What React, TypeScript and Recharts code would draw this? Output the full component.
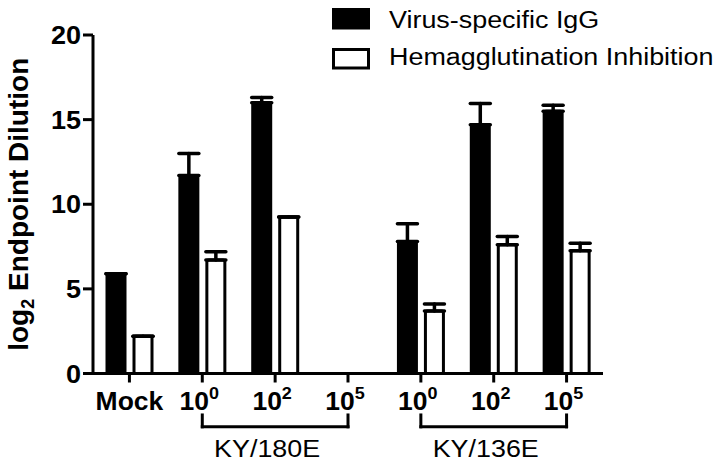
import { BarChart, Bar, XAxis, YAxis, ErrorBar, Legend, ReferenceLine } from 'recharts'

const FONT = '"Liberation Sans", Arial, sans-serif'

// categories along the x axis (10^5 under KY/180E has no data)
const categories = [
  'Mock',
  'KY/180E 10^0',
  'KY/180E 10^2',
  'KY/180E 10^5',
  'KY/136E 10^0',
  'KY/136E 10^2',
  'KY/136E 10^5',
]
const tickBase = ['Mock', '10', '10', '10', '10', '10', '10']
const tickExp = ['', '0', '2', '5', '0', '2', '5']

const seriesNames = ['Virus-specific IgG', 'Hemagglutination Inhibition']

// log2 endpoint dilution, mean and upper error
const iggMean = [5.9, 11.7, 16.0, null, 7.8, 14.7, 15.5]
const iggErr = [0, 1.3, 0.3, null, 1.05, 1.25, 0.35]
const hiMean = [2.2, 6.7, 9.25, null, 3.7, 7.6, 7.25]
const hiErr = [0, 0.5, 0, null, 0.4, 0.5, 0.45]

const yTicks = [0, 5, 10, 15, 20]

// strain brackets under the axis
const groupLabels = ['KY/180E', 'KY/136E']
const groupStart = [categories[1], categories[4]]
const groupEnd = [categories[3], categories[6]]

const data = categories.map((name, i) => ({
  name,
  igg: iggMean[i],
  iggErr: iggErr[i] == null ? null : [0, iggErr[i]],
  hi: hiMean[i],
  hiErr: hiErr[i] == null ? null : [0, hiErr[i]],
}))

function YTick({ x, y, payload }: any) {
  return (
    <text
      transform={`translate(${x},${y + 9}) scale(1.08,1)`}
      textAnchor="end"
      fontFamily={FONT}
      fontWeight="bold"
      fontSize={25}
      fill="#000"
    >
      {payload.value}
    </text>
  )
}

function XTick({ x, y, payload }: any) {
  const i = categories.indexOf(payload.value)
  const shift = i === 0 ? 0 : -3
  return (
    <text
      transform={`translate(${x + shift},${y + 25.5}) scale(1.06,1)`}
      textAnchor="middle"
      fontFamily={FONT}
      fontWeight="bold"
      fontSize={25}
      fill="#000"
    >
      {tickBase[i]}
      {tickExp[i] && (
        <tspan dy={-11} fontSize={17}>
          {tickExp[i]}
        </tspan>
      )}
    </text>
  )
}

function YLabel({ viewBox }: any) {
  const cy = viewBox.y + viewBox.height / 2
  return (
    <text
      transform={`translate(${viewBox.x + 28},${cy}) rotate(-90)`}
      textAnchor="middle"
      fontFamily={FONT}
      fontWeight="bold"
      fontSize={28}
      fill="#000"
    >
      log
      <tspan fontSize={18} dy={6}>
        2
      </tspan>
      <tspan dy={-6}> Endpoint Dilution</tspan>
    </text>
  )
}

function LegendBox({ payload }: any) {
  const items = [...(payload || [])].sort(
    (a: any, b: any) => seriesNames.indexOf(a.value) - seriesNames.indexOf(b.value)
  )
  return (
    <svg width={722} height={80} style={{ display: 'block' }}>
      {items.map((e: any, i: number) => (
        <g key={e.value}>
          <rect
            x={333.5}
            y={9.5 + i * 40}
            width={35}
            height={18.5}
            fill={e.color}
            stroke="#000"
            strokeWidth={3}
          />
          <text
            transform={`translate(389,${28 + i * 37}) scale(1.17,1)`}
            fontFamily={FONT}
            fontSize={23}
            fill="#000"
          >
            {e.value}
          </text>
        </g>
      ))}
    </svg>
  )
}

const bracketY = -3.15
const bracketTop = -2.45

export default function App() {
  return (
    <div style={{ position: 'fixed', left: 0, top: 0, width: 722, height: 465, background: '#fff' }}>
      <BarChart
        width={722}
        height={465}
        data={data}
        barGap={9}
        margin={{ top: 35, right: 119, bottom: 31.5, left: 0 }}
      >
        <XAxis
          dataKey="name"
          height={60}
          interval={0}
          tick={<XTick />}
          tickSize={9}
          axisLine={{ stroke: '#000', strokeWidth: 3 }}
          tickLine={{ stroke: '#000', strokeWidth: 3 }}
        />
        <YAxis
          width={93}
          domain={[0, 20]}
          ticks={yTicks}
          tick={<YTick />}
          tickSize={10}
          axisLine={{ stroke: '#000', strokeWidth: 3 }}
          tickLine={{ stroke: '#000', strokeWidth: 3 }}
          label={{ content: (p: any) => <YLabel viewBox={p.viewBox} /> }}
        />
        <Legend
          layout="horizontal"
          verticalAlign="middle"
          align="center"
          wrapperStyle={{ position: 'absolute', top: 0, left: 0, width: 722, height: 80 }}
          content={(p: any) => <LegendBox payload={p.payload} />}
        />
        <Bar
          dataKey="igg"
          name={seriesNames[0]}
          fill="#000"
          stroke="#000"
          strokeWidth={3}
          barSize={18}
          radius={2}
          isAnimationActive={false}
        >
          <ErrorBar dataKey="iggErr" width={10} stroke="#000" strokeWidth={3.5} strokeLinecap="round" />
        </Bar>
        <Bar
          dataKey="hi"
          name={seriesNames[1]}
          fill="#fff"
          stroke="#000"
          strokeWidth={3}
          barSize={18}
          radius={2}
          isAnimationActive={false}
        >
          <ErrorBar dataKey="hiErr" width={10} stroke="#000" strokeWidth={3.5} strokeLinecap="round" />
        </Bar>
        {groupLabels.map((g, i) => (
          <ReferenceLine
            key={g}
            segment={[
              { x: groupStart[i], y: bracketY },
              { x: groupEnd[i], y: bracketY },
            ]}
            stroke="#000"
            strokeWidth={3}
            strokeLinecap="square"
            ifOverflow="visible"
            label={(p: any) => (
              <text
                transform={`translate(${p.viewBox.x + p.viewBox.width / 2 - 8},${p.viewBox.y + 30}) scale(1.12,1)`}
                textAnchor="middle"
                fontFamily={FONT}
                fontSize={24}
                fill="#000"
              >
                {g}
              </text>
            )}
          />
        ))}
        {groupLabels.map((g, i) => (
          <ReferenceLine
            key={g + '-l'}
            segment={[
              { x: groupStart[i], y: bracketY },
              { x: groupStart[i], y: bracketTop },
            ]}
            stroke="#000"
            strokeWidth={3}
            strokeLinecap="square"
            ifOverflow="visible"
          />
        ))}
        {groupLabels.map((g, i) => (
          <ReferenceLine
            key={g + '-r'}
            segment={[
              { x: groupEnd[i], y: bracketY },
              { x: groupEnd[i], y: bracketTop },
            ]}
            stroke="#000"
            strokeWidth={3}
            strokeLinecap="square"
            ifOverflow="visible"
          />
        ))}
      </BarChart>
    </div>
  )
}
